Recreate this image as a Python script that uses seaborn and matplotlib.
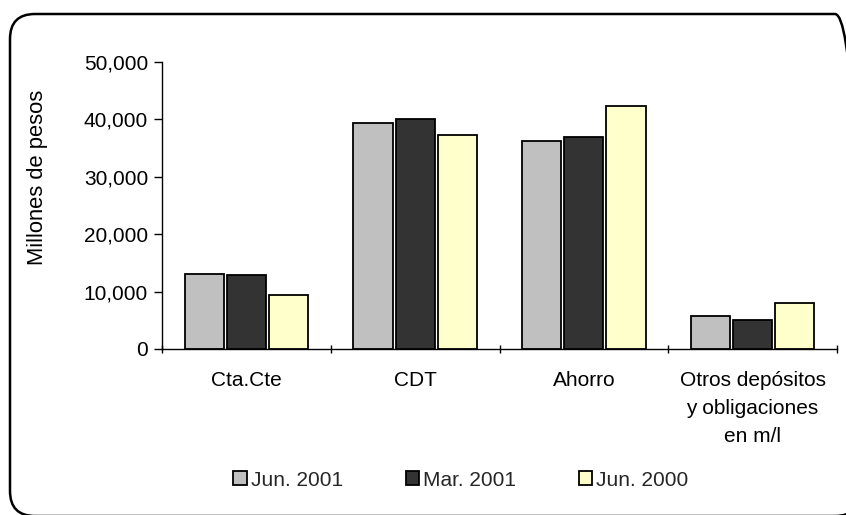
import matplotlib

matplotlib.use("Agg")

import matplotlib.pyplot as plt
import pandas as pd
import seaborn as sns
from matplotlib.patches import FancyBboxPatch
from matplotlib.ticker import FixedLocator, StrMethodFormatter

CATEGORIES = ["Cta.Cte", "CDT", "Ahorro", "Otros depósitos\ny obligaciones\nen m/l"]
SERIES = ["Jun. 2001", "Mar. 2001", "Jun. 2000"]
JUN_2001 = [13100, 39400, 36200, 5750]
MAR_2001 = [12900, 40000, 36900, 5050]
JUN_2000 = [9350, 37300, 42300, 7950]
COLORS = ["#C0C0C0", "#333333", "#FFFFCC"]

frame = pd.DataFrame(
    {
        "Categoria": CATEGORIES * 3,
        "Serie": [s for s in SERIES for _ in CATEGORIES],
        "Valor": JUN_2001 + MAR_2001 + JUN_2000,
    }
)

sns.set_theme(style="white")
plt.rcParams["font.family"] = ["Liberation Sans", "DejaVu Sans"]
font_size = 15

fig = plt.figure(figsize=(8.46, 5.15), dpi=100)
ax = fig.add_axes([162 / 846, 1 - 349 / 515, (837 - 162) / 846, (349 - 62) / 515])

sns.barplot(
    data=frame,
    x="Categoria",
    y="Valor",
    hue="Serie",
    order=CATEGORIES,
    hue_order=SERIES,
    palette=COLORS,
    width=0.75,
    gap=0.07,
    saturation=1,
    edgecolor="black",
    linewidth=1.3,
    ax=ax,
)

ax.set_xlim(-0.5, len(CATEGORIES) - 0.5)
ax.set_ylim(0, 50000)
ax.yaxis.set_major_locator(FixedLocator(range(0, 50001, 10000)))
ax.yaxis.set_major_formatter(StrMethodFormatter("{x:,.0f}"))
ax.xaxis.set_minor_locator(FixedLocator([i - 0.5 for i in range(len(CATEGORIES) + 1)]))
ax.tick_params(axis="x", which="major", length=0, pad=16, labelsize=font_size, colors="black")
ax.tick_params(axis="x", which="minor", length=6, width=1, direction="inout", color="black", bottom=True)
ax.tick_params(axis="y", length=6, width=1, direction="out", color="black", left=True, pad=4,
               labelsize=font_size, labelcolor="black")
for label in ax.get_xticklabels():
    label.set_linespacing(1.6)
    label.set_verticalalignment("top")
ax.set_xlabel("")
ax.set_ylabel("")
sns.despine(ax=ax)
for side in ["left", "bottom"]:
    ax.spines[side].set_color("black")
    ax.spines[side].set_linewidth(1)

fig.text(38 / 846, 1 - 177 / 515, "Millones de pesos", rotation=90, ha="center", va="center",
         fontsize=15.8, color="black")

handles, labels = ax.get_legend_handles_labels()
ax.get_legend().remove()
fig.legend(
    handles,
    labels,
    loc="center",
    bbox_to_anchor=(461 / 846, 1 - 480 / 515),
    ncol=3,
    frameon=False,
    fontsize=font_size,
    handlelength=0.65,
    handleheight=0.65,
    handletextpad=0.2,
    columnspacing=3.0,
)

# rounded chart border, only the top-right corner curve reaches into the canvas
border = FancyBboxPatch(
    (0.10, -0.01),
    8.50,
    5.02,
    boxstyle="round,pad=0,rounding_size=0.25",
    transform=fig.dpi_scale_trans,
    facecolor="none",
    edgecolor="black",
    linewidth=1.8,
    clip_on=False,
)
fig.patches.append(border)

fig.savefig("out.png", dpi=100)
